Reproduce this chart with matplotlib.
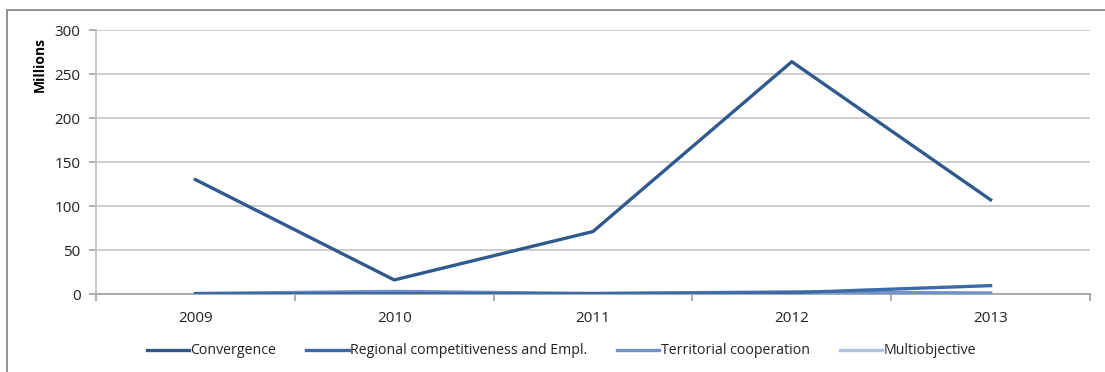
import matplotlib
matplotlib.use("Agg")
import matplotlib.pyplot as plt
from matplotlib.patches import Rectangle

plt.rcParams['font.family'] = ['Open Sans', 'DejaVu Sans']

# ===== data (millions) =====
years = ["2009", "2010", "2011", "2012", "2013"]
convergence = [130, 16, 71, 264, 107]
regional = [0.5, 0.5, 0.5, 1.5, 9.5]
territorial = [0.5, 3, 0.5, 2.5, 1]
multiobjective = [0, 0.5, 0, 0.5, 1]

series_names = ["Convergence", "Regional competitiveness and Empl.",
                "Territorial cooperation", "Multiobjective"]
colors = ["#2F5A8E", "#3C6AA8", "#6E92C9", "#AFC2E0"]

W, H = 1105, 372
fig = plt.figure(figsize=(W / 100, H / 100), dpi=100)

# axes box in pixels: left 96, right 1090, top 30, bottom 294
ax = fig.add_axes([96 / W, 1 - 294 / H, (1090 - 96) / W, (294 - 30) / H])

x = list(range(len(years)))
data = [convergence, regional, territorial, multiobjective]
lines = []
# draw the small series first so Convergence sits on top
for i in range(len(data) - 1, -1, -1):
    ln, = ax.plot(x, data[i], color=colors[i], lw=2.4,
                  label=series_names[i], zorder=3)
    lines.append((i, ln))
lines.sort()

ax.set_xlim(-0.5, len(years) - 0.5)
ax.set_ylim(0, 300)
ax.set_yticks(range(0, 301, 50))
ax.yaxis.grid(True, color="#C8C8C8", lw=1.3)
ax.set_axisbelow(True)

# category ticks between the years
ax.set_xticks([k - 0.5 for k in range(len(years) + 1)])
ax.set_xticklabels([])
ax.set_xticks(x, minor=True)
ax.set_xticklabels(years, minor=True)
ax.tick_params(axis="x", which="major", length=5, color="#A0A0A0", width=1.2)
ax.tick_params(axis="x", which="minor", length=0, pad=12, labelsize=11,
               labelcolor="#222222")
ax.tick_params(axis="y", length=5, color="#A0A0A0", width=1.2, labelsize=11,
               labelcolor="#222222", pad=6)

for side in ["top", "right"]:
    ax.spines[side].set_visible(False)
ax.spines["left"].set_color("#C0C0C0")
ax.spines["bottom"].set_color("#A8A8A8")
ax.spines["left"].set_linewidth(1.2)
ax.spines["bottom"].set_linewidth(1.4)

ax.set_ylabel("Millions", fontsize=10, fontweight="bold", loc="top")
ax.yaxis.set_label_coords(-0.05, 0.975)

leg = fig.legend([ln for _, ln in lines], series_names, loc="center",
                 bbox_to_anchor=(0.508, 1 - 351 / H), ncol=4, frameon=False,
                 fontsize=10.2, handlelength=3.0, handletextpad=0.1,
                 columnspacing=2.1)
for t in leg.get_texts():
    t.set_color("#222222")

# outer chart frame (top and left edges visible)
fig.patches.append(Rectangle((7 / W, -0.1), 1.2, 1 - 10 / H + 0.1,
                             transform=fig.transFigure, fill=False,
                             edgecolor="#8A8A8A", lw=1.3))

fig.savefig("out.png", dpi=100)
